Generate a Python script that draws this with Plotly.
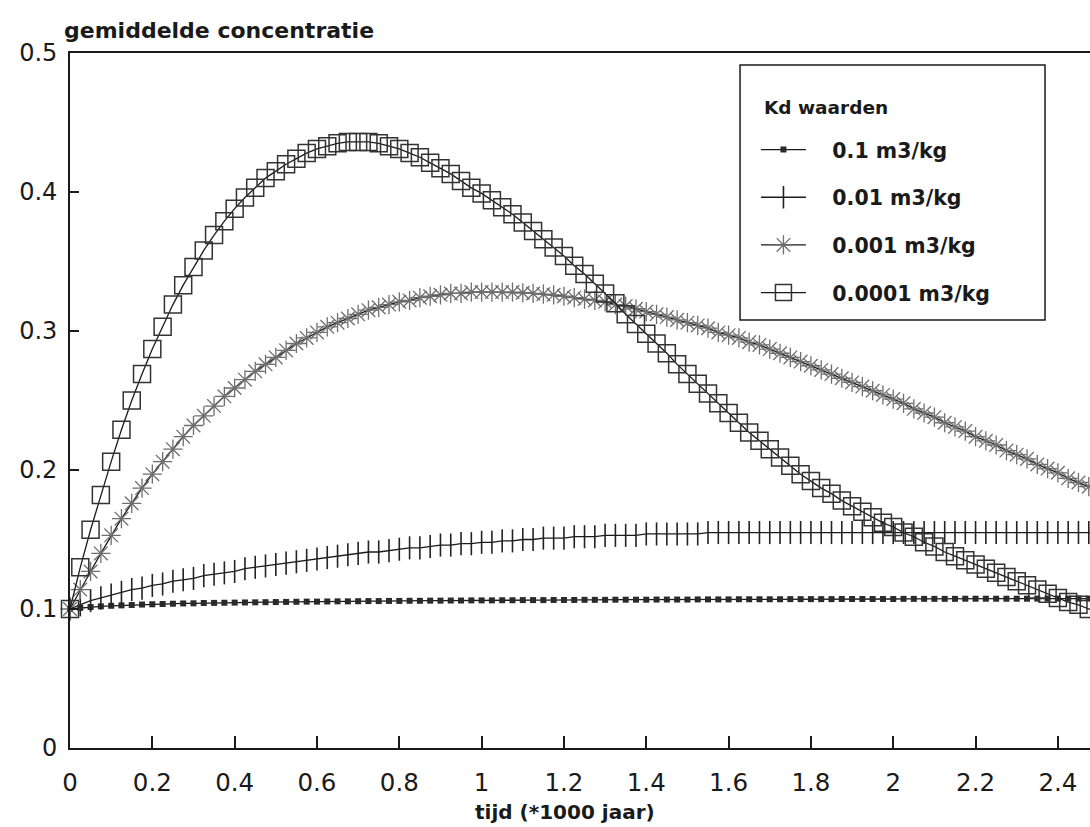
import plotly.graph_objects as go

# tijd in duizenden jaren (stap 25 jaar)
tijd = [
    0.0, 0.025, 0.05, 0.075, 0.1, 0.125, 0.15, 0.175, 0.2, 0.225, 0.25,
    0.275, 0.3, 0.325, 0.35, 0.375, 0.4, 0.425, 0.45, 0.475, 0.5,
    0.525, 0.55, 0.575, 0.6, 0.625, 0.65, 0.675, 0.7, 0.725, 0.75,
    0.775, 0.8, 0.825, 0.85, 0.875, 0.9, 0.925, 0.95, 0.975, 1.0,
    1.025, 1.05, 1.075, 1.1, 1.125, 1.15, 1.175, 1.2, 1.225, 1.25,
    1.275, 1.3, 1.325, 1.35, 1.375, 1.4, 1.425, 1.45, 1.475, 1.5,
    1.525, 1.55, 1.575, 1.6, 1.625, 1.65, 1.675, 1.7, 1.725, 1.75,
    1.775, 1.8, 1.825, 1.85, 1.875, 1.9, 1.925, 1.95, 1.975, 2.0,
    2.025, 2.05, 2.075, 2.1, 2.125, 2.15, 2.175, 2.2, 2.225, 2.25,
    2.275, 2.3, 2.325, 2.35, 2.375, 2.4, 2.425, 2.45, 2.475, 2.5,
]

# gemiddelde concentratie per Kd-waarde
conc_kd_1e1 = [
    0.1000, 0.1008, 0.1014, 0.1019, 0.1023, 0.1026, 0.1029, 0.1032, 0.1034, 0.1036, 0.1038,
    0.1040, 0.1041, 0.1043, 0.1044, 0.1045, 0.1046, 0.1047, 0.1048, 0.1049, 0.1050,
    0.1051, 0.1052, 0.1053, 0.1053, 0.1054, 0.1055, 0.1055, 0.1056, 0.1057, 0.1057,
    0.1058, 0.1058, 0.1059, 0.1059, 0.1060, 0.1060, 0.1061, 0.1061, 0.1062, 0.1062,
    0.1062, 0.1063, 0.1063, 0.1064, 0.1064, 0.1064, 0.1065, 0.1065, 0.1065, 0.1066,
    0.1066, 0.1066, 0.1067, 0.1067, 0.1067, 0.1067, 0.1068, 0.1068, 0.1068, 0.1068,
    0.1069, 0.1069, 0.1069, 0.1069, 0.1070, 0.1070, 0.1070, 0.1070, 0.1070, 0.1071,
    0.1071, 0.1071, 0.1071, 0.1071, 0.1072, 0.1072, 0.1072, 0.1072, 0.1072, 0.1072,
    0.1073, 0.1073, 0.1073, 0.1073, 0.1073, 0.1073, 0.1074, 0.1074, 0.1074, 0.1074,
    0.1074, 0.1074, 0.1074, 0.1075, 0.1075, 0.1075, 0.1075, 0.1075, 0.1075, 0.1075,
]

conc_kd_1e2 = [
    0.100, 0.103, 0.106, 0.108, 0.110, 0.112, 0.114, 0.115, 0.117, 0.118, 0.120,
    0.121, 0.122, 0.124, 0.125, 0.126, 0.127, 0.129, 0.130, 0.131, 0.132,
    0.133, 0.134, 0.135, 0.136, 0.137, 0.138, 0.139, 0.140, 0.141, 0.141,
    0.142, 0.143, 0.144, 0.144, 0.145, 0.146, 0.146, 0.147, 0.147, 0.148,
    0.148, 0.149, 0.149, 0.150, 0.150, 0.151, 0.151, 0.151, 0.152, 0.152,
    0.152, 0.153, 0.153, 0.153, 0.153, 0.154, 0.154, 0.154, 0.154, 0.154,
    0.154, 0.155, 0.155, 0.155, 0.155, 0.155, 0.155, 0.155, 0.155, 0.155,
    0.155, 0.155, 0.155, 0.155, 0.155, 0.155, 0.155, 0.155, 0.155, 0.155,
    0.155, 0.155, 0.155, 0.155, 0.155, 0.155, 0.155, 0.155, 0.155, 0.155,
    0.155, 0.155, 0.155, 0.155, 0.155, 0.155, 0.155, 0.155, 0.155, 0.155,
]

conc_kd_1e3 = [
    0.100, 0.114, 0.127, 0.140, 0.153, 0.165, 0.176, 0.187, 0.197, 0.206, 0.215,
    0.224, 0.232, 0.239, 0.246, 0.253, 0.259, 0.265, 0.271, 0.276, 0.281,
    0.286, 0.291, 0.295, 0.299, 0.303, 0.306, 0.309, 0.312, 0.315, 0.317,
    0.319, 0.321, 0.322, 0.324, 0.325, 0.326, 0.327, 0.327, 0.328, 0.328,
    0.328, 0.328, 0.328, 0.3275, 0.327, 0.3265, 0.326, 0.325, 0.324, 0.323,
    0.322, 0.321, 0.319, 0.318, 0.316, 0.314, 0.312, 0.310, 0.308, 0.306,
    0.304, 0.302, 0.299, 0.297, 0.295, 0.292, 0.290, 0.287, 0.284, 0.281,
    0.278, 0.275, 0.272, 0.269, 0.266, 0.263, 0.260, 0.257, 0.254, 0.251,
    0.248, 0.244, 0.241, 0.238, 0.234, 0.231, 0.228, 0.224, 0.221, 0.218,
    0.214, 0.211, 0.208, 0.204, 0.201, 0.198, 0.194, 0.191, 0.188, 0.185,
]

conc_kd_1e4 = [
    0.100, 0.130, 0.157, 0.182, 0.206, 0.229, 0.250, 0.269, 0.287, 0.303, 0.319,
    0.333, 0.346, 0.358, 0.369, 0.379, 0.388, 0.396, 0.403, 0.410, 0.415,
    0.420, 0.424, 0.428, 0.431, 0.433, 0.435, 0.436, 0.436, 0.436, 0.435,
    0.433, 0.431, 0.428, 0.425, 0.421, 0.417, 0.413, 0.408, 0.403, 0.399,
    0.394, 0.389, 0.384, 0.378, 0.372, 0.366, 0.360, 0.354, 0.347, 0.341,
    0.334, 0.327, 0.320, 0.312, 0.305, 0.298, 0.291, 0.284, 0.276, 0.269,
    0.262, 0.255, 0.248, 0.241, 0.234, 0.227, 0.221, 0.215, 0.209, 0.203,
    0.197, 0.192, 0.187, 0.183, 0.178, 0.174, 0.170, 0.166, 0.162, 0.159,
    0.155, 0.152, 0.148, 0.145, 0.141, 0.138, 0.135, 0.132, 0.129, 0.126,
    0.123, 0.120, 0.117, 0.114, 0.111, 0.108, 0.105, 0.103, 0.100, 0.098,
]

reeks_namen = ["0.1 m3/kg", "0.01 m3/kg", "0.001 m3/kg", "0.0001 m3/kg"]
x_ticks = [0, 0.2, 0.4, 0.6, 0.8, 1.0, 1.2, 1.4, 1.6, 1.8, 2.0, 2.2, 2.4]
x_tick_labels = ["0", "0.2", "0.4", "0.6", "0.8", "1", "1.2", "1.4", "1.6", "1.8", "2", "2.2", "2.4"]
y_ticks = [0, 0.1, 0.2, 0.3, 0.4, 0.5]
y_tick_labels = ["0", "0.1", "0.2", "0.3", "0.4", "0.5"]

FONT = "DejaVu Sans"
INK = "#1a1a1a"
GAP = "\u00a0\u00a0\u00a0"  # ruimte tussen legendasymbool en tekst

markers = [
    dict(symbol="square", size=6, color="#2a2a2a", line=dict(width=0)),
    dict(symbol="line-ns", size=16.5, color="#222222", line=dict(width=1.6, color="#222222")),
    dict(symbol="asterisk", size=16, color="#6e6e6e", line=dict(width=1.3, color="#6e6e6e")),
    dict(symbol="square-open", size=17, color="#333333", line=dict(width=1.5, color="#333333")),
]
series = [conc_kd_1e1, conc_kd_1e2, conc_kd_1e3, conc_kd_1e4]

fig = go.Figure()
for i, (naam, ys, mk) in enumerate(zip(reeks_namen, series, markers)):
    fig.add_trace(go.Scatter(
        x=tijd, y=ys, name=GAP + naam, mode="lines+markers",
        line=dict(color=INK, width=1.3),
        marker=mk, cliponaxis=False,
        legendgroup=f"g{i}",
    ))

# legendakader (wit vlak over de curves heen)
box_x0, box_x1 = 0.6569, 0.9559
box_y0, box_y1 = 0.6158, 0.9827

fig.update_layout(
    width=1090, height=827,
    margin=dict(l=70, r=0, t=53, b=79),
    paper_bgcolor="white", plot_bgcolor="white",
    font=dict(family=FONT, color=INK),
    showlegend=True,
    legend=dict(
        x=0.6725, y=0.8895, xanchor="left", yanchor="top",
        bgcolor="rgba(0,0,0,0)", borderwidth=0,
        font=dict(family=FONT, size=20.5, weight="bold", color=INK),
        tracegroupgap=18, itemwidth=45,
    ),
    shapes=[
        dict(type="rect", xref="paper", yref="paper",
             x0=box_x0, x1=box_x1, y0=box_y0, y1=box_y1,
             fillcolor="white", line=dict(color=INK, width=1.5), layer="above"),
    ],
    xaxis=dict(
        range=[0, 2.478], tickvals=x_ticks, ticktext=x_tick_labels,
        showgrid=False, zeroline=False,
        showline=True, linecolor=INK, linewidth=1.6, mirror=True,
        ticks="inside", ticklen=12, tickwidth=1.5, tickcolor=INK,
        tickfont=dict(family=FONT, size=24.5, color=INK),
        ticklabelstandoff=12,
    ),
    yaxis=dict(
        range=[0, 0.5], tickvals=y_ticks, ticktext=y_tick_labels,
        showgrid=False, zeroline=False,
        showline=True, linecolor=INK, linewidth=1.6,
        ticks="inside", ticklen=9, tickwidth=1.5, tickcolor=INK,
        tickfont=dict(family=FONT, size=24, color=INK),
        ticklabelstandoff=6,
    ),
    annotations=[
        dict(text="gemiddelde concentratie", xref="paper", yref="paper",
             x=0, y=1, xanchor="left", yanchor="middle", xshift=-8, yshift=23,
             showarrow=False, font=dict(family=FONT, size=22, weight="bold", color=INK)),
        dict(text="tijd (*1000 jaar)", xref="paper", yref="paper",
             x=0.485, y=0, xanchor="center", yanchor="middle", yshift=-64,
             showarrow=False, font=dict(family=FONT, size=20, weight="bold", color=INK)),
        dict(text="Kd waarden", xref="paper", yref="paper",
             x=0.6784, y=0.9209, xanchor="left", yanchor="middle",
             showarrow=False, font=dict(family=FONT, size=18.5, weight="bold", color=INK)),
    ],
)

fig.write_html("out.html")
